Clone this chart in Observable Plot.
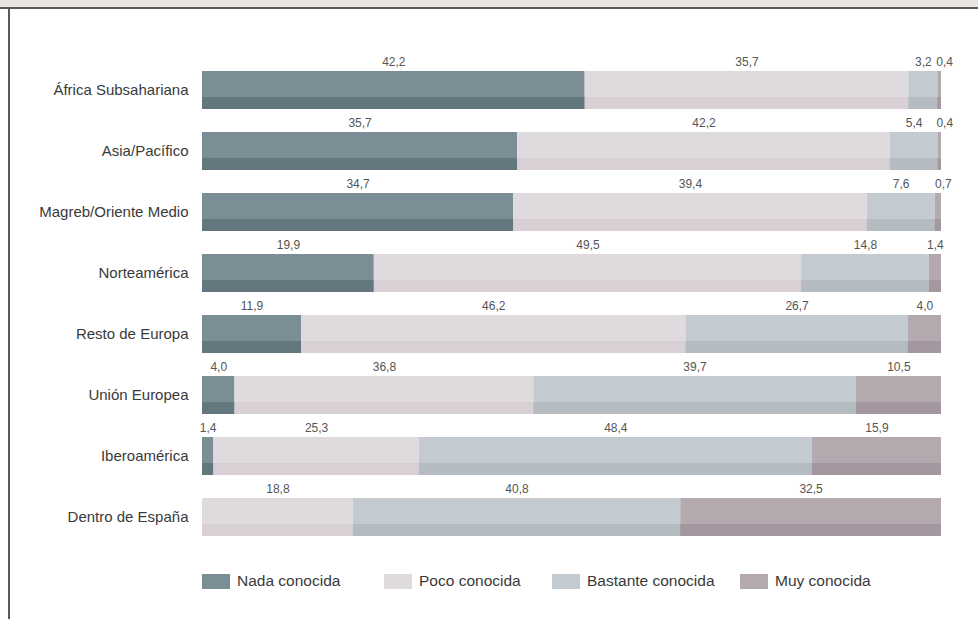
<!DOCTYPE html>
<html>
<head>
<meta charset="utf-8">
<script src="https://cdn.jsdelivr.net/npm/d3@7"></script>
<script src="https://cdn.jsdelivr.net/npm/@observablehq/plot@0.6"></script>
<style>
  html, body { margin: 0; padding: 0; background: #fff; width: 978px; height: 619px; overflow: hidden; font-family: "Liberation Sans", Arial, sans-serif; }
  #topbar { position: absolute; left: 0; top: 0; width: 978px; height: 7px; background: #e9e5e2; border-bottom: 2px solid #58585a; }
  #frame { position: absolute; left: 8px; top: 9px; width: 968px; height: 610px; border-left: 2px solid #58585a; }
  #chart { position: absolute; left: 0; top: 0; }
  .leg { position: absolute; top: 563px; display: flex; align-items: center; font-size: 15.5px; color: #3a3a3a; white-space: nowrap; }
  .leg .sw { width: 28px; height: 15px; margin-right: 7px; }
</style>
</head>
<body>
<div id="topbar"></div>
<div id="frame">
  <div id="chart"></div>
  <div id="legend"></div>
</div>
<script>
const regions = ["África Subsahariana", "Asia/Pacífico", "Magreb/Oriente Medio", "Norteamérica", "Resto de Europa", "Unión Europea", "Iberoamérica", "Dentro de España"];
const categories = ["Nada conocida", "Poco conocida", "Bastante conocida", "Muy conocida"];
const nada     = [42.2, 35.7, 34.7, 19.9, 11.9, 4.0, 1.4, null];
const poco     = [35.7, 42.2, 39.4, 49.5, 46.2, 36.8, 25.3, 18.8];
const bastante = [3.2, 5.4, 7.6, 14.8, 26.7, 39.7, 48.4, 40.8];
const muy      = [0.4, 0.4, 0.7, 1.4, 4.0, 10.5, 15.9, 32.5];

const topColors = ["#7b8e96", "#dfdadd", "#c4cbd0", "#b5a9b0"];
const bottomColors = ["#64777f", "#d8d0d4", "#b4bcc2", "#a4979f"];
const legendLeft = [192, 374, 542, 730];

const series = [nada, poco, bastante, muy];
const data = [];
regions.forEach((r, i) => {
  categories.forEach((c, j) => {
    const v = series[j][i];
    if (v != null) data.push({region: r, cat: c, value: v});
  });
});
const topOf = Object.fromEntries(categories.map((c, j) => [c, topColors[j]]));
const botOf = Object.fromEntries(categories.map((c, j) => [c, bottomColors[j]]));
const fmt = v => d3.format(".1f")(v).replace(".", ",");

const stack = extra => Plot.stackX({offset: "normalize", x: "value", y: "region", z: "cat", ...extra});

const chart = Plot.plot({
  width: 968,
  height: 551,
  marginLeft: 192,
  marginRight: 37,
  marginTop: 38.5,
  marginBottom: 1,
  style: {fontFamily: "'Liberation Sans', Arial, sans-serif", fontSize: "15px", color: "#3a3a3a", background: "transparent"},
  x: {axis: null, domain: [0, 1]},
  y: {domain: regions, padding: 0.385, label: null},
  color: {type: "identity"},
  marks: [
    Plot.barX(data, stack({fill: d => topOf[d.cat]})),
    Plot.barX(data, stack({fill: d => botOf[d.cat], insetTop: 26})),
    Plot.text(data, Plot.filter(d => d.value >= 1, stack({text: d => fmt(d.value), dy: -28, fontSize: 12, fill: "#555"}))),
    Plot.text(data, Plot.filter(d => d.value < 1, stack({text: d => fmt(d.value), dy: -28, dx: 5, fontSize: 12, fill: "#555"}))),
    Plot.axisY({tickSize: 0, tickPadding: 14, fontSize: 15, label: null})
  ]
});
document.getElementById("chart").appendChild(chart);

const legend = document.getElementById("legend");
categories.forEach((c, j) => {
  const item = document.createElement("div");
  item.className = "leg";
  item.style.left = legendLeft[j] + "px";
  const sw = document.createElement("div");
  sw.className = "sw";
  sw.style.background = topColors[j];
  const t = document.createElement("span");
  t.textContent = c;
  item.appendChild(sw);
  item.appendChild(t);
  legend.appendChild(item);
});
</script>
</body>
</html>
